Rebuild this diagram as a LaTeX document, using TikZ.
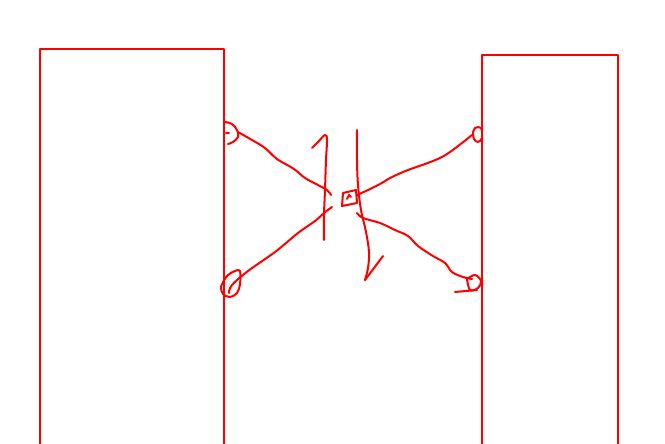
\documentclass[tikz,border=0pt]{standalone}
\begin{document}
\begin{tikzpicture}[x=1pt,y=-1pt,
  ink/.style={draw=red,line width=2pt,line cap=round,line join=round},
  pen/.style={ink,smooth,tension=0.6}]
\useasboundingbox (0,0) rectangle (665,444);
\clip (0,0) rectangle (665,444);
% boxes
\draw[ink] (40,460) -- (40,49) -- (224,49) -- (224,460);
\draw[ink] (482,460) -- (482,55) -- (618,55) -- (618,460);
% left top semicircle
\draw[pen] plot coordinates {(225,122) (232,124) (237,130) (238,137) (233,142) (228,144)};
\draw[ink] (226,133) -- (229,133);
% upper left line
\draw[pen] plot coordinates {(238,132) (252,140) (265,148) (277,159) (294,169) (305,178) (318,185) (327,190) (331,195)};
% left 7 shape
\draw[pen] plot coordinates {(312,148) (318,142) (325,135) (327,140) (326,160) (325,190) (324,215) (324,240)};
% lower left line
\draw[pen] plot coordinates {(332,207) (324,213) (315,221) (298,233) (275,252) (248,271) (232,285) (229,293)};
% lower left drop shape
\draw[pen] plot coordinates {(223,282) (228,275) (235,271) (240,271) (240,284) (237,293) (230,297) (223,294) (221,287) (224,281)};
% centre square
\draw[ink] (343,193) -- (356,190) -- (357,203) -- (342,206) -- cycle;
\draw[ink] (347,199) -- (349,195) -- (351,197);
% right vertical line with arrow
\draw[pen] plot coordinates {(357,130) (357,160) (358,185) (361,210) (366,232) (369,252) (368,268) (365,280)};
\draw[ink] (383,256) -- (365,280);
% upper right line
\draw[pen] plot coordinates {(357,195) (368,190) (380,184) (392,177) (408,170) (425,164) (440,158) (450,152) (462,143) (472,135)};
\draw[pen] plot coordinates {(473,133) (475,128) (481,128) (482,138) (478,142) (474,139) (473,133)};
% lower right line
\draw[pen] plot coordinates {(357,213) (363,218) (380,223) (395,230) (408,236) (418,246) (433,256) (445,263) (452,272) (463,277) (472,279)};
\draw[pen] plot coordinates {(467,279) (475,275) (481,281) (478,288) (470,290) (467,279)};
\draw[ink] (455,292) -- (477,290);
\end{tikzpicture}
\end{document}
